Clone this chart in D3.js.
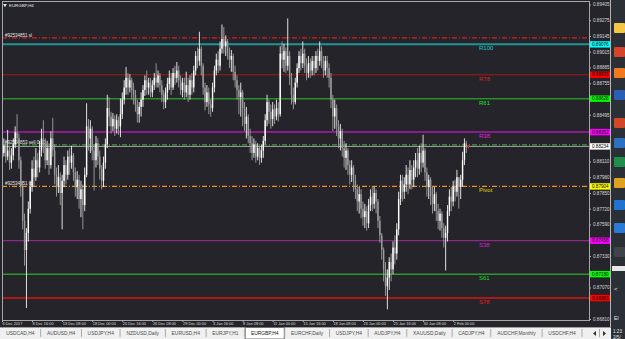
<!DOCTYPE html>
<html>
<head>
<meta charset="utf-8">
<script src="https://cdn.jsdelivr.net/npm/d3@7"></script>
<style>
body { margin: 0; background: #24242a; overflow: hidden; }
svg { display: block; font-family: "Liberation Sans", Arial, sans-serif; }
</style>
</head>
<body>
<svg id="chart" width="625" height="339"></svg>
<script>
// EURGBP H4 candles, 6 Dec 2017 .. 2 Feb 2018 (open = previous close)
const firstOpen = 0.8822
const closes = [
  0.8818,0.8824,0.8815,0.8820,0.8810,0.8816,0.8825,0.8835,0.8830,
  0.8812,0.8790,0.8762,0.8738,0.8752,0.8772,
  0.8790,0.8805,0.8798,0.8812,0.8806,0.8820,0.8830,
  0.8825,0.8812,0.8822,0.8808,0.8830,0.8820,0.8800,
  0.8790,0.8798,0.8785,0.8795,0.8808,0.8800,0.8815,0.8810,0.8816,0.8802,0.8790,0.8796,0.8780,0.8788,0.8775,0.8800,
  0.8840,0.8830,0.8838,0.8820,0.8812,0.8826,0.8815,0.8805,0.8795,0.8810,0.8825,
  0.8855,0.8848,0.8840,0.8846,0.8838,0.8845,0.8840,0.8850,
  0.8862,0.8872,0.8880,0.8872,0.8878,0.8870,0.8866,
  0.8858,0.8850,0.8856,0.8862,0.8870,0.8878,0.8872,
  0.8876,0.8868,0.8874,0.8880,0.8876,0.8882,0.8874,0.8866,0.8860,0.8868,0.8875,
  0.8880,0.8872,0.8884,0.8880,0.8886,0.8878,0.8870,0.8876,0.8868,0.8874,0.8866,0.8878,0.8872,
  0.8886,0.8898,0.8894,0.8904,0.8890,
  0.8872,0.8860,0.8868,0.8858,0.8855,0.8872,
  0.8886,0.8895,0.8890,0.8904,0.8912,0.8906,0.8910,0.8900,
  0.8895,0.8898,0.8885,0.8878,0.8870,0.8864,0.8868,0.8855,0.8842,0.8848,0.8832,
  0.8826,0.8818,0.8825,0.8815,0.8822,0.8814,0.8820,0.8828,
  0.8845,0.8860,0.8852,0.8846,0.8854,0.8848,0.8855,0.8850,
  0.8900,0.8895,0.8902,0.8890,0.8898,0.8880,
  0.8866,0.8860,0.8876,0.8888,
  0.8898,0.8892,0.8900,0.8890,0.8884,0.8892,0.8886,
  0.8894,0.8888,0.8898,0.8894,0.8902,0.8892,0.8886,0.8894,0.8888,0.8880,
  0.8862,0.8848,0.8855,0.8840,0.8830,0.8836,0.8822,0.8814,0.8820,0.8808,0.8800,0.8806,0.8795,0.8788,
  0.8778,0.8784,0.8772,0.8765,0.8770,0.8760,0.8775,
  0.8782,0.8776,0.8785,0.8778,0.8762,0.8750,
  0.8738,0.8722,0.8708,0.8715,0.8728,
  0.8722,0.8740,0.8735,0.8755,0.8780,0.8795,0.8786,0.8792,
  0.8800,0.8792,0.8804,0.8796,0.8806,0.8812,
  0.8805,0.8818,0.8810,0.8820,0.8802,
  0.8790,0.8796,0.8782,0.8776,0.8784,0.8770,0.8762,0.8768,
  0.8756,0.8748,0.8752,0.8770,
  0.8782,0.8778,0.8790,0.8786,0.8798,0.8790,0.8796,0.8812,0.8826,0.8823
]
const highs = [
  0.8826,0.8830,0.8829,0.8837,0.8823,0.8822,0.8830,0.8840,0.8850,
  0.8834,0.8815,0.8795,0.8768,0.8756,0.8778,
  0.8795,0.8812,0.8815,0.8822,0.8818,0.8828,0.8838,
  0.8845,0.8830,0.8828,0.8826,0.8836,0.8847,0.8825,
  0.8806,0.8808,0.8802,0.8800,0.8815,0.8812,0.8820,0.8822,0.8824,0.8818,0.8806,0.8803,0.8800,0.8795,0.8792,0.8806,
  0.8859,0.8846,0.8845,0.8840,0.8825,0.8832,0.8830,0.8820,0.8808,0.8815,0.8830,
  0.8866,0.8864,0.8852,0.8851,0.8849,0.8850,0.8848,0.8863,
  0.8868,0.8878,0.8889,0.8884,0.8883,0.8880,0.8876,
  0.8870,0.8862,0.8860,0.8868,0.8874,0.8882,0.8886,
  0.8880,0.8880,0.8878,0.8884,0.8892,0.8886,0.8884,0.8878,0.8870,0.8872,0.8880,
  0.8886,0.8884,0.8888,0.8890,0.8893,0.8890,0.8882,0.8880,0.8880,0.8885,0.8880,0.8882,0.8884,
  0.8890,0.8902,0.8905,0.8918,0.8906,
  0.8892,0.8876,0.8874,0.8872,0.8862,0.8876,
  0.8890,0.8900,0.8902,0.8910,0.8924,0.8922,0.8915,0.8912,
  0.8905,0.8903,0.8900,0.8890,0.8882,0.8874,0.8876,0.8870,0.8860,0.8856,0.8850,
  0.8838,0.8832,0.8830,0.8828,0.8826,0.8824,0.8825,0.8832,
  0.8850,0.8866,0.8862,0.8858,0.8860,0.8858,0.8862,0.8860,
  0.8906,0.8910,0.8908,0.8905,0.8929,0.8902,
  0.8884,0.8872,0.8880,0.8892,
  0.8902,0.8904,0.8910,0.8904,0.8896,0.8898,0.8896,
  0.8898,0.8898,0.8902,0.8904,0.8910,0.8906,0.8898,0.8898,0.8898,0.8892,
  0.8884,0.8866,0.8862,0.8858,0.8845,0.8842,0.8838,0.8828,0.8826,0.8822,0.8812,0.8812,0.8808,0.8800,
  0.8792,0.8790,0.8788,0.8778,0.8776,0.8774,0.8780,
  0.8788,0.8790,0.8790,0.8788,0.8780,0.8766,
  0.8752,0.8740,0.8728,0.8722,0.8732,
  0.8735,0.8745,0.8750,0.8760,0.8786,0.8800,0.8800,0.8798,
  0.8808,0.8806,0.8812,0.8808,0.8812,0.8818,
  0.8822,0.8824,0.8826,0.8833,0.8822,
  0.8806,0.8800,0.8798,0.8790,0.8790,0.8786,0.8776,0.8772,
  0.8770,0.8760,0.8758,0.8775,
  0.8788,0.8790,0.8795,0.8796,0.8804,0.8798,0.8800,0.8819,0.8830,0.8828
]
const lows = [
  0.8812,0.8815,0.8810,0.8812,0.8804,0.8805,0.8812,0.8822,0.8826,
  0.8805,0.8782,0.8755,0.8725,0.8690,0.8745,
  0.8768,0.8786,0.8790,0.8795,0.8798,0.8802,0.8815,
  0.8818,0.8805,0.8808,0.8800,0.8805,0.8815,0.8792,
  0.8782,0.8785,0.8775,0.8755,0.8790,0.8792,0.8796,0.8800,0.8805,0.8795,0.8782,0.8780,0.8772,0.8765,0.8755,0.8770,
  0.8798,0.8820,0.8818,0.8812,0.8787,0.8806,0.8808,0.8796,0.8788,0.8790,0.8805,
  0.8822,0.8840,0.8834,0.8836,0.8832,0.8834,0.8833,0.8831,
  0.8846,0.8858,0.8866,0.8866,0.8868,0.8862,0.8858,
  0.8852,0.8843,0.8843,0.8848,0.8856,0.8865,0.8866,
  0.8866,0.8864,0.8864,0.8870,0.8872,0.8872,0.8868,0.8860,0.8854,0.8855,0.8862,
  0.8870,0.8866,0.8870,0.8874,0.8876,0.8872,0.8866,0.8864,0.8862,0.8864,0.8860,0.8862,0.8866,
  0.8868,0.8882,0.8888,0.8890,0.8882,
  0.8866,0.8853,0.8856,0.8850,0.8848,0.8852,
  0.8868,0.8882,0.8884,0.8886,0.8900,0.8900,0.8898,0.8895,
  0.8888,0.8885,0.8878,0.8872,0.8862,0.8850,0.8848,0.8840,0.8836,0.8830,0.8826,
  0.8818,0.8812,0.8814,0.8810,0.8812,0.8808,0.8810,0.8814,
  0.8825,0.8840,0.8842,0.8838,0.8840,0.8842,0.8845,0.8844,
  0.8848,0.8888,0.8885,0.8884,0.8886,0.8874,
  0.8858,0.8854,0.8858,0.8872,
  0.8884,0.8886,0.8888,0.8884,0.8878,0.8880,0.8880,
  0.8882,0.8882,0.8884,0.8886,0.8890,0.8888,0.8880,0.8882,0.8880,0.8872,
  0.8855,0.8836,0.8838,0.8832,0.8822,0.8820,0.8815,0.8806,0.8804,0.8800,0.8792,0.8794,0.8786,0.8780,
  0.8770,0.8768,0.8764,0.8758,0.8756,0.8754,0.8756,
  0.8770,0.8770,0.8772,0.8768,0.8756,0.8744,
  0.8730,0.8712,0.8700,0.8689,0.8705,
  0.8712,0.8718,0.8726,0.8730,0.8750,0.8775,0.8778,0.8780,
  0.8786,0.8784,0.8788,0.8788,0.8790,0.8798,
  0.8798,0.8800,0.8802,0.8806,0.8795,
  0.8782,0.8780,0.8775,0.8768,0.8770,0.8762,0.8755,0.8754,
  0.8748,0.8740,0.8721,0.8745,
  0.8766,0.8770,0.8774,0.8778,0.8782,0.8772,0.8780,0.8790,0.8808,0.8818
]

// time axis labels (every 16 bars)
const dateBars = [0,16,32,48,64,80,96,112,128,144,160,176,192,208,224,240]
const dateLabels = ["6 Dec 2017","8 Dec 16:00","13 Dec 08:00","18 Dec 00:00","20 Dec 16:00","26 Dec 08:00",
  "29 Dec 00:00","3 Jan 16:00","8 Jan 08:00","11 Jan 00:00","15 Jan 16:00","18 Jan 08:00",
  "23 Jan 00:00","25 Jan 16:00","30 Jan 08:00","2 Feb 00:00"]

// price scale labels
const priceTicks = [0.89405,0.89275,0.89145,0.89015,0.88885,0.88755,0.88625,0.88495,0.88365,0.88235,
  0.88110,0.87980,0.87850,0.87720,0.87590,0.87460,0.87330,0.87200,0.87070,0.86940,0.86810]

// fibonacci pivot levels
const levelNames = ["R100","R78","R61","R38","Pivot","S38","S61","S78"]
const levelPrices = [0.89076,0.88825,0.88628,0.88352,0.87904,0.87456,0.87180,0.86983]

// order lines
const orderLabels = ["#92534851 sl","#92534853 sell 0.10","#92534851 tp"]
const orderPrices = [0.89129,0.88246,0.87904]
const bidPrice = 0.88234

const tabNames = ["USDCAD,H4","AUDUSD,H4","USDJPY,H4","NZDUSD,Daily","EURUSD,H4","EURJPY,H1","EURGBP,H4",
  "EURCHF,Daily","USDJPY,H4","AUDJPY,H4","XAUUSD,Daily","CADJPY,H4","AUDCHF,Monthly","USDCHF,H4"]
const activeTab = "EURGBP,H4"

// styles
const levelColors = ["#1f9494","#a01a1a","#2a8e2a","#8a1c8a","none","#a030a0","#2e962e","#d81414"]
const levelWidths = [2, 1, 1.5, 2, 0, 1, 1.5, 1.6]
const labelColors = ["#18d0d8","#d82424","#24e024","#e024e0","#e0d800","#d024d0","#24d824","#e01c1c"]
const boxColors = ["#00ffff","#ff0000","#00ff00","#ff00ff","#ffff00","#ff00ff","#00ff00","#ff0000"]
const orderColors = ["#e01c1c","#3c9c3c","#f0901c"]

const svg = d3.select("#chart")
const plot = {left: 2, right: 589, top: 1, bottom: 320}

svg.append("rect").attr("width", 625).attr("height", 339).attr("fill", "#24242a")

const x = d3.scaleLinear().domain([0, 313]).range([2, 590.4])
const y = d3.scaleLinear().domain([0.86810, 0.89145]).range([319, 36])

svg.append("clipPath").attr("id", "clip")
  .append("rect").attr("x", plot.left).attr("y", plot.top)
  .attr("width", plot.right - plot.left).attr("height", plot.bottom - plot.top)

const body = svg.append("g").attr("clip-path", "url(#clip)")

// level lines
levelPrices.forEach((p, i) => {
  if (levelWidths[i] > 0) {
    body.append("line")
      .attr("x1", plot.left).attr("x2", plot.right)
      .attr("y1", y(p)).attr("y2", y(p))
      .attr("stroke", levelColors[i]).attr("stroke-width", levelWidths[i])
  }
})

// bid line
body.append("line")
  .attr("x1", plot.left).attr("x2", plot.right)
  .attr("y1", y(bidPrice)).attr("y2", y(bidPrice))
  .attr("stroke", "#a4a4a4").attr("stroke-width", 1)

// order lines (dash dot)
orderPrices.forEach((p, i) => {
  body.append("line")
    .attr("x1", plot.left).attr("x2", plot.right)
    .attr("y1", y(p)).attr("y2", y(p))
    .attr("stroke", orderColors[i]).attr("stroke-width", 1.2)
    .attr("stroke-dasharray", "5,2,1,2")
  body.append("text")
    .attr("x", 5).attr("y", y(p) - 1.2)
    .attr("fill", "#e4e4e4").style("font-size", "4.5px")
    .text(orderLabels[i])
})

// candles
const bars = closes.map((c, i) => ({i, o: i ? closes[i - 1] : firstOpen, h: highs[i], l: lows[i], c}))
const candle = body.selectAll("g.candle").data(bars).enter().append("g").attr("class", "candle")
candle.append("line")
  .attr("x1", d => x(d.i)).attr("x2", d => x(d.i))
  .attr("y1", d => y(d.h)).attr("y2", d => y(d.l))
  .attr("stroke", d => d.c >= d.o ? "#f4f4f4" : "#a0a0a0").attr("stroke-width", 0.9)
candle.append("rect")
  .attr("x", d => x(d.i) - 0.7).attr("width", 1.4)
  .attr("y", d => y(Math.max(d.o, d.c)))
  .attr("height", d => Math.max(0.8, Math.abs(y(d.o) - y(d.c))))
  .attr("fill", d => d.c >= d.o ? "#ffffff" : "#9c9c9c")

// last price marker
body.append("rect")
  .attr("x", x(closes.length - 1) + 1.2).attr("y", y(bidPrice) - 1.5)
  .attr("width", 1.6).attr("height", 3.5).attr("fill", "#e01c1c")

// level labels
levelPrices.forEach((p, i) => {
  body.append("text")
    .attr("x", 479).attr("y", y(p) + 6)
    .attr("fill", labelColors[i]).style("font-size", "6px")
    .text(levelNames[i])
})

// frame
svg.append("rect")
  .attr("x", plot.left + 0.5).attr("y", plot.top + 0.5)
  .attr("width", plot.right - plot.left).attr("height", plot.bottom - plot.top)
  .attr("fill", "none").attr("stroke", "#a8a8a8").attr("stroke-width", 1)

// title
svg.append("path").attr("d", d3.symbol(d3.symbolTriangle, 6)())
  .attr("transform", "translate(5,5) rotate(180)").attr("fill", "#e8e8e8")
svg.append("text").attr("x", 9).attr("y", 6.8)
  .attr("fill", "#e8e8e8").style("font-size", "4.4px").text("EURGBP,H4")

// price axis
const boxPrices = levelPrices.concat([bidPrice])
const gy = svg.append("g").attr("transform", `translate(${plot.right},0)`)
  .call(d3.axisRight(y).tickValues(priceTicks).tickFormat(d3.format(".5f")).tickSize(2))
gy.attr("font-size", null).attr("font-family", null)
gy.select(".domain").remove()
gy.selectAll(".tick").filter(d => boxPrices.some(p => Math.abs(y(p) - y(d)) < 6)).remove()
gy.selectAll("line").attr("stroke", "#b0b0b0")
gy.selectAll("text").attr("x", 4).attr("fill", "#d8d8d8").style("font-size", "4.6px")

// price boxes
const boxes = levelPrices.map((p, i) => ({p, col: boxColors[i]})).concat([{p: bidPrice, col: "#ffffff"}])
const bx = svg.selectAll("g.pbox").data(boxes).enter().append("g").attr("class", "pbox")
bx.append("rect").attr("x", plot.right + 1).attr("y", d => y(d.p) - 3.2)
  .attr("width", 20).attr("height", 6.4).attr("fill", d => d.col)
bx.append("text").attr("x", plot.right + 3).attr("y", d => y(d.p) + 1.7)
  .attr("fill", "#000").style("font-size", "4.6px").text(d => d3.format(".5f")(d.p))

// time axis
const gx = svg.append("g").attr("transform", `translate(0,${plot.bottom})`)
  .call(d3.axisBottom(x).tickValues(dateBars).tickFormat((d, i) => dateLabels[i]).tickSize(2))
gx.attr("font-size", null).attr("font-family", null)
gx.select(".domain").remove()
gx.selectAll("line").attr("stroke", "#b0b0b0")
gx.selectAll("text").attr("text-anchor", "start").attr("x", 0).attr("y", 2.2)
  .attr("fill", "#dcdcdc").style("font-size", "3.9px")

// right window border + taskbar
svg.append("line").attr("x1", 610.5).attr("x2", 610.5).attr("y1", 0).attr("y2", 328)
  .attr("stroke", "#b4b4b4")
svg.append("rect").attr("x", 611).attr("y", 0).attr("width", 14).attr("height", 339).attr("fill", "#2b2f36")
const iconY = [28, 52, 73, 95, 123, 143, 162, 183, 205, 228, 252]
const iconCol = ["#f2c744", "#d8432c", "#f07a1c", "#2b5fb4", "#d24726", "#2d6fc0", "#1f8f4c", "#e0a020", "#1e74d0", "#2a7ad8", "#404448"]
svg.selectAll("rect.icon").data(iconY).enter().append("rect").attr("class", "icon")
  .attr("x", 614).attr("y", d => d - 5).attr("width", 11).attr("height", 10).attr("rx", 1)
  .attr("fill", (d, i) => iconCol[i])
svg.append("rect").attr("x", 612).attr("y", 266).attr("width", 13).attr("height", 5).attr("fill", "#e8e8e8")
svg.append("text").attr("x", 614).attr("y", 291).attr("fill", "#e8e8e8").style("font-size", "6px").text("<")
svg.append("text").attr("x", 614).attr("y", 320).attr("fill", "#e8e8e8").style("font-size", "5px").text("EI")
svg.append("text").attr("x", 613).attr("y", 333).attr("fill", "#e8e8e8").style("font-size", "4.6px").text("1:23")
svg.append("text").attr("x", 613).attr("y", 339).attr("fill", "#e8e8e8").style("font-size", "4.6px").text("2/5/")

// symbol tabs
svg.append("rect").attr("x", 0).attr("y", 327).attr("width", 611).attr("height", 12).attr("fill", "#f0f0f0")
svg.append("line").attr("x1", 0).attr("x2", 611).attr("y1", 327.5).attr("y2", 327.5).attr("stroke", "#a0a0a0")
const tabG = svg.append("g")
const tabTexts = tabNames.map(n => tabG.append("text").text(n).attr("fill", n === activeTab ? "#111" : "#4a4a4a")
  .style("font-size", "4.9px").attr("text-anchor", "middle").attr("y", 335.3))
const tabW = tabTexts.map(t => t.node().getComputedTextLength() + 10)
const k = 582 / d3.sum(tabW)
let cur = 0
tabTexts.forEach((t, i) => {
  const w = tabW[i] * k
  if (tabNames[i] === activeTab) {
    tabG.insert("rect", "text").attr("x", cur + 0.5).attr("y", 327.5).attr("width", w - 1).attr("height", 11.5)
      .attr("fill", "#ffffff").attr("stroke", "#707070")
  }
  t.attr("x", cur + w / 2)
  cur += w
  tabG.append("line").attr("x1", cur).attr("x2", cur).attr("y1", 329).attr("y2", 337).attr("stroke", "#a8a8a8")
})
// scroll arrows
svg.append("path").attr("d", "M596,331 L593,333.5 L596,336 Z").attr("fill", "#303030")
svg.append("path").attr("d", "M603,331 L606,333.5 L603,336 Z").attr("fill", "#303030")
svg.append("line").attr("x1", 599.5).attr("x2", 599.5).attr("y1", 329).attr("y2", 337).attr("stroke", "#a8a8a8")
</script>
</body>
</html>
